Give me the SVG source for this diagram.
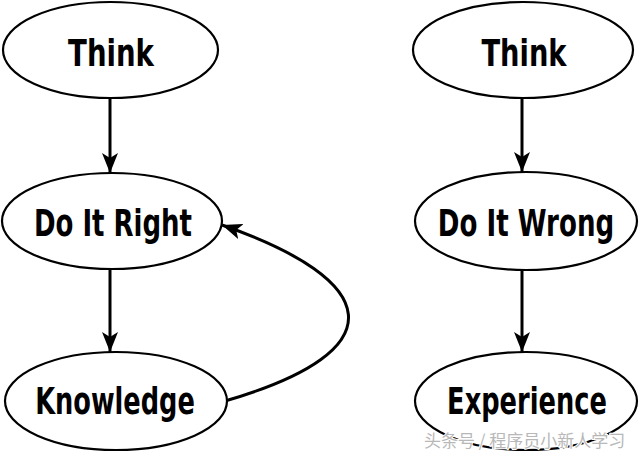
<svg xmlns="http://www.w3.org/2000/svg" width="640" height="453" viewBox="0 0 640 453">
<style>
.node ellipse{fill:#fff;stroke:#000;stroke-width:2.2}
.node text{font-family:"DejaVu Sans Condensed","DejaVu Sans",sans-serif;font-weight:bold;font-size:38px;fill:#000;text-anchor:middle}
.edge{fill:none;stroke:#000;stroke-width:3}
.wm{font-family:"Noto Sans CJK SC",sans-serif;font-size:17px;fill:#b8b8b8;stroke:#fff;stroke-width:2;paint-order:stroke}
</style>
<defs>
<marker id="ah" viewBox="0 0 20 16" refX="20" refY="8" markerWidth="20" markerHeight="16" markerUnits="userSpaceOnUse" orient="auto">
<path d="M0,0 L20,8 L0,16 L5,8 Z" fill="#000"/>
</marker>
</defs>
<rect width="640" height="453" fill="#fff"/>
<g id="connectors">
<line class="edge" x1="110" y1="98" x2="110" y2="173" marker-end="url(#ah)"/>
<line class="edge" x1="110" y1="270" x2="110" y2="352" marker-end="url(#ah)"/>
<path class="edge" d="M225,401 C400,350 380,280 222,225" marker-end="url(#ah)"/>
<line class="edge" x1="522" y1="99" x2="522" y2="172" marker-end="url(#ah)"/>
<line class="edge" x1="522" y1="270" x2="522" y2="352" marker-end="url(#ah)"/>
</g>
<g id="think-left" class="node">
<ellipse cx="110.5" cy="50" rx="107.5" ry="48"/>
<text transform="translate(111,66) scale(0.81,1)" textLength="106" lengthAdjust="spacingAndGlyphs">Think</text>
</g>
<g id="do-it-right" class="node">
<ellipse cx="112" cy="221" rx="110" ry="48"/>
<text transform="translate(113,236) scale(0.76,1)" textLength="208" lengthAdjust="spacingAndGlyphs">Do It Right</text>
</g>
<g id="knowledge" class="node">
<ellipse cx="116" cy="401" rx="111" ry="49"/>
<text transform="translate(115,414) scale(0.75,1)" textLength="213" lengthAdjust="spacingAndGlyphs">Knowledge</text>
</g>
<g id="think-right" class="node">
<ellipse cx="523" cy="50" rx="110" ry="48"/>
<text transform="translate(524,66) scale(0.81,1)" textLength="105" lengthAdjust="spacingAndGlyphs">Think</text>
</g>
<g id="do-it-wrong" class="node">
<ellipse cx="526" cy="221" rx="111" ry="49"/>
<text transform="translate(526,236) scale(0.77,1)" textLength="229" lengthAdjust="spacingAndGlyphs">Do It Wrong</text>
</g>
<g id="experience" class="node">
<ellipse cx="526" cy="401" rx="111" ry="49"/>
<text transform="translate(527,414) scale(0.72,1)" textLength="222" lengthAdjust="spacingAndGlyphs">Experience</text>
</g>
<text class="wm" x="424" y="447">头条号 / 程序员小新人学习</text>
</svg>
